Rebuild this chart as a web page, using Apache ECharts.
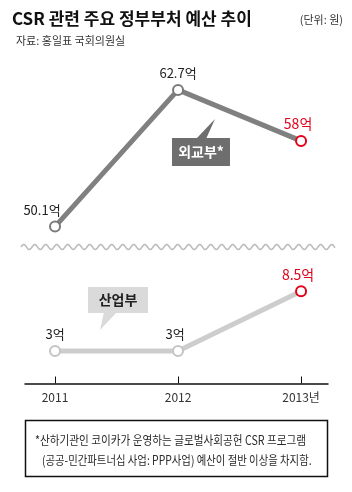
<!DOCTYPE html>
<html>
<head>
<meta charset="utf-8">
<script src="https://cdn.jsdelivr.net/npm/echarts@6/dist/echarts.min.js"></script>
<style>
  html, body { margin: 0; padding: 0; background: #fff; }
  #chart { width: 352px; height: 492px; }
</style>
</head>
<body>
<div id="chart"></div>
<script>
var years = [2011, 2012, 2013];
var foreignVals = [50.1, 62.7, 58];   // 외교부
var industryVals = [3, 3, 8.5];       // 산업부

var FONT = '"Noto Sans CJK KR", "Noto Sans", sans-serif';
var RED = '#e2001a';

function buildData(vals, lineColor, offsets) {
    return vals.map(function (v, i) {
        var last = i === vals.length - 1;
        return {
            value: [years[i], v],
            itemStyle: { borderColor: last ? RED : lineColor },
            label: { color: last ? RED : '#222', fontSize: last ? 14 : 13, offset: offsets[i] }
        };
    });
}

// wavy break line (decoration only)
function wavePoints(x0, x1, y, amp, period) {
    var pts = [];
    for (var x = x0; x <= x1; x += 0.5) {
        pts.push([x, y - amp * Math.sin((x - x0) / period * Math.PI * 2)]);
    }
    return pts;
}

var chart = echarts.init(document.getElementById('chart'));

var option = {
    animation: false,
    textStyle: { fontFamily: FONT },
    grid: { left: 25, right: 24, top: 60, bottom: 106 },
    xAxis: {
        type: 'value',
        min: 2010.756,
        max: 2013.219,
        splitLine: { show: false },
        axisLine: { lineStyle: { color: '#111', width: 1.5 } },
        axisTick: { show: true, inside: true, length: 7, customValues: years, lineStyle: { color: '#111', width: 1 } },
        axisLabel: {
            customValues: years, margin: 5, fontSize: 12, color: '#333', fontFamily: FONT,
            formatter: function (v) { return v === 2013 ? v + '년' : '' + v; }
        }
    },
    yAxis: [
        { type: 'value', min: 35.4, max: 65.46, show: false },
        { type: 'value', min: -0.23, max: 29.83, show: false }
    ],
    series: [
        {
            type: 'line',
            yAxisIndex: 0,
            data: buildData(foreignVals, '#7a7a7a', [[-13, 0], [0, 0], [-3, 0]]),
            lineStyle: { color: '#808080', width: 5 },
            symbol: 'circle',
            symbolSize: 10,
            itemStyle: { color: '#fff', borderWidth: 2 },
            label: {
                show: true, position: 'top', distance: 4, fontFamily: FONT,
                formatter: function (p) { return p.value[1] + '억'; }
            },
            z: 3
        },
        {
            type: 'line',
            yAxisIndex: 1,
            data: buildData(industryVals, '#c4c4c4', [[0, 0], [-3, 0], [-3, 0]]),
            lineStyle: { color: '#cdcdcd', width: 5 },
            symbol: 'circle',
            symbolSize: 10,
            itemStyle: { color: '#fff', borderWidth: 2 },
            label: {
                show: true, position: 'top', distance: 4, fontFamily: FONT,
                formatter: function (p) { return p.value[1] + '억'; }
            },
            z: 3
        }
    ],
    graphic: [
        { type: 'text', left: 12, top: 10, style: { text: 'CSR 관련 주요 정부부처 예산 추이', font: 'bold 17px ' + FONT, fill: '#111' } },
        { type: 'text', right: 9, top: 14, style: { text: '(단위: 원)', font: '11px ' + FONT, fill: '#333' } },
        { type: 'text', left: 16, top: 35, style: { text: '자료: 홍일표 국회의원실', font: '11px ' + FONT, fill: '#333' } },
        { type: 'polyline', shape: { points: wavePoints(21, 335, 247, 2.5, 11) }, style: { fill: null, stroke: '#bdbdbd', lineWidth: 1.6 }, z: 1 },
        // 외교부 callout
        { type: 'polygon', shape: { points: [[196, 139], [206, 139], [215, 119]] }, style: { fill: '#6e6e6e' }, z: 5 },
        { type: 'rect', shape: { x: 172, y: 138, width: 58, height: 28 }, style: { fill: '#6e6e6e' }, z: 5 },
        { type: 'text', x: 201, y: 152, style: { text: '외교부*', font: 'bold 14px ' + FONT, fill: '#fff', align: 'center', verticalAlign: 'middle' }, z: 6 },
        // 산업부 callout
        { type: 'polygon', shape: { points: [[104, 312], [117, 312], [100, 330]] }, style: { fill: '#dadada' }, z: 5 },
        { type: 'rect', shape: { x: 88, y: 287, width: 60, height: 26 }, style: { fill: '#dadada' }, z: 5 },
        { type: 'text', x: 118, y: 300, style: { text: '산업부', font: 'bold 14px ' + FONT, fill: '#222', align: 'center', verticalAlign: 'middle' }, z: 6 },
        // footnote box
        { type: 'rect', shape: { x: 25.5, y: 420.5, width: 302, height: 56 }, style: { fill: null, stroke: '#111', lineWidth: 1.5 } },
        { type: 'text', x: 35, y: 440, scaleX: 0.85, style: { text: '*산하기관인 코이카가 운영하는 글로벌사회공헌 CSR 프로그램', font: '12.5px ' + FONT, fill: '#2a2a2a', verticalAlign: 'middle' } },
        { type: 'text', x: 42, y: 460, scaleX: 0.83, style: { text: '(공공-민간파트너십 사업: PPP사업) 예산이 절반 이상을 차지함.', font: '12.5px ' + FONT, fill: '#2a2a2a', verticalAlign: 'middle' } }
    ]
};

chart.setOption(option);
</script>
</body>
</html>
